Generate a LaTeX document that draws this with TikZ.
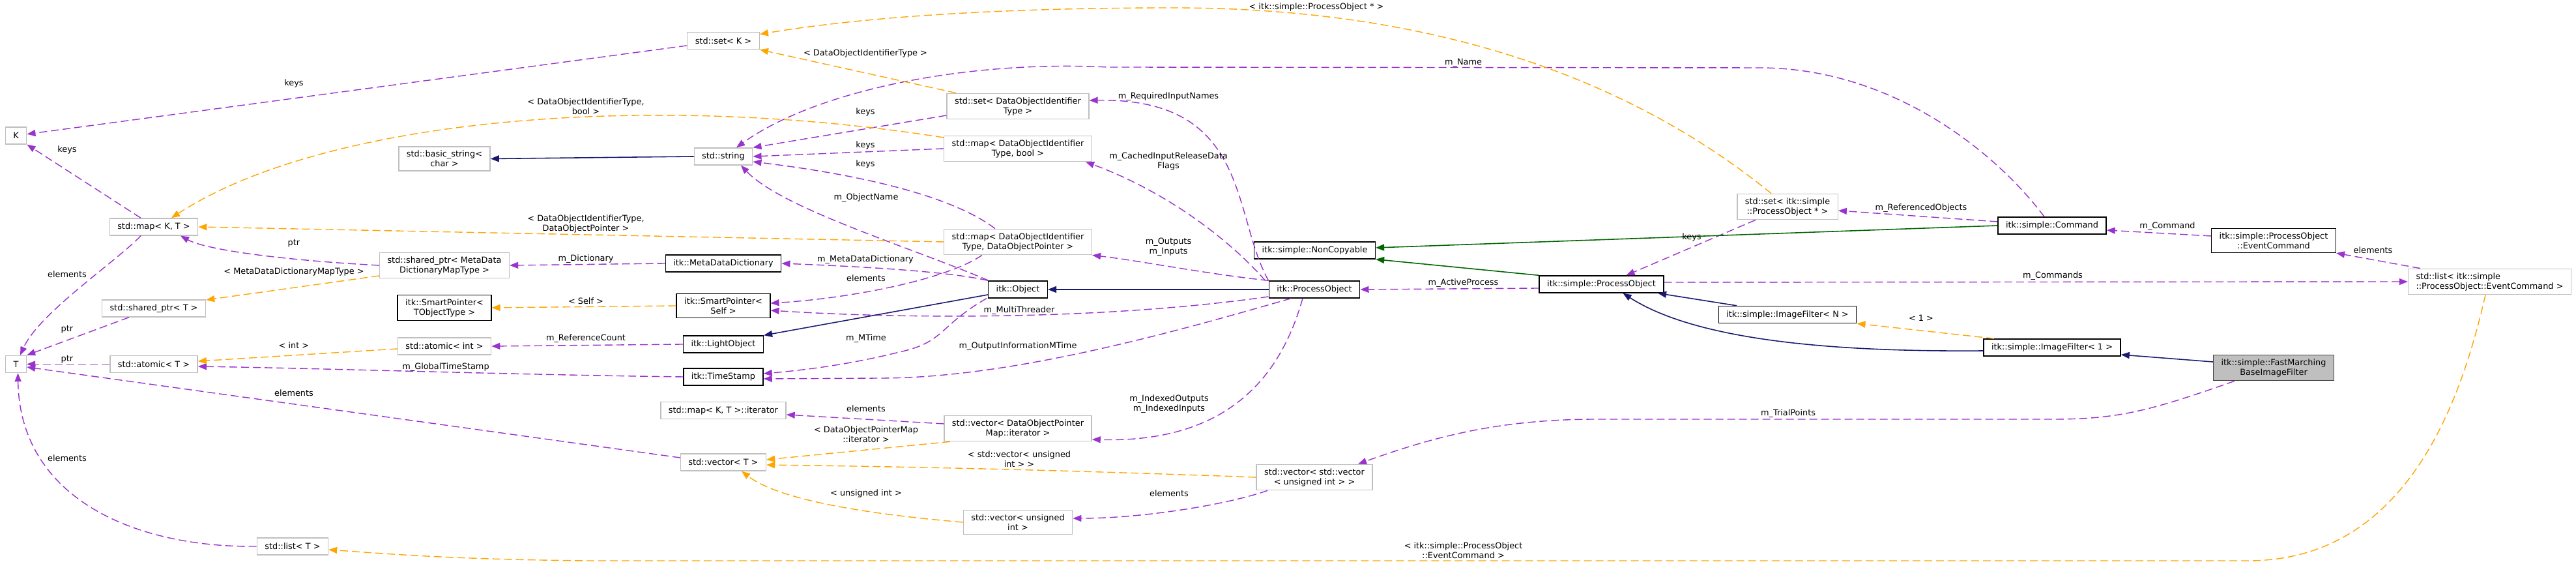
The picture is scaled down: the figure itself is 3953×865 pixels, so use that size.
\documentclass[tikz,border=0pt]{standalone}
\usepackage{fontspec}
\setmainfont{DejaVu Sans}
\usetikzlibrary{arrows.meta}
\definecolor{edgepurple}{HTML}{9A32CD}
\definecolor{tmplorange}{HTML}{FFA500}
\definecolor{inhblue}{HTML}{191970}
\definecolor{privgreen}{HTML}{006400}
\definecolor{nodegray}{HTML}{BFBFBF}
\definecolor{mainborder}{HTML}{404040}
\newcommand{\dgfont}{\fontsize{3.66pt}{4.25pt}\selectfont}

\begin{document}
\begin{tikzpicture}[x=0.01cm, y=-0.01cm,
  cls/.style={draw=black, fill=white, line width=0.4pt, font=\dgfont, align=center,
    inner xsep=0.12cm, inner ysep=0.06cm, minimum height=0.26cm},
  extcls/.style={cls, draw=nodegray},
  maincls/.style={cls, fill=nodegray, draw=mainborder},
  lbl/.style={font=\dgfont, align=center, inner sep=0pt},
  dgtip/.style={-{Triangle[length=0.13cm,width=0.10cm]}},
  usesedge/.style={dgtip, draw=edgepurple, line width=0.4pt, dash pattern=on 0.12cm off 0.06cm},
  tmpledge/.style={dgtip, draw=tmplorange, line width=0.4pt, dash pattern=on 0.12cm off 0.06cm},
  inhedge/.style={dgtip, draw=inhblue, line width=0.45pt},
  privedge/.style={dgtip, draw=privgreen, line width=0.45pt}]
  \path[use as bounding box, fill=white] (0,0) rectangle (3953,865);

  %% std containers and helpers (left)
  \node[extcls] (K) at (24.5,208) {K};
  \node[extcls] (mapKT) at (236,348) {std::map< K, T >};
  \node[extcls] (T) at (24.5,558.5) {T};
  \node[extcls] (sharedT) at (236,473) {std::shared\_ptr< T >};
  \node[extcls] (atomicT) at (236,558.5) {std::atomic< T >};
  \node[extcls] (listT) at (449,838) {std::list< T >};
  \node[extcls] (basicStr) at (682,243.5) {std::basic\_string<\\char >};
  \node[extcls] (sharedMD) at (682,407) {std::shared\_ptr< MetaData\\DictionaryMapType >};
  \node[cls] (spT) at (682,472) {itk::SmartPointer<\\TObjectType >};
  \node[extcls] (atomicInt) at (682,531) {std::atomic< int >};
  \node[extcls] (setK) at (1110,62.5) {std::set< K >};
  \node[extcls] (str) at (1110,240) {std::string};
  \node[cls] (mdd) at (1110,404) {itk::MetaDataDictionary};
  \node[cls] (spSelf) at (1110,469) {itk::SmartPointer<\\Self >};
  \node[cls] (lightObj) at (1110,528) {itk::LightObject};
  \node[cls] (timeStamp) at (1110,578) {itk::TimeStamp};
  \node[extcls] (mapIter) at (1110,629.5) {std::map< K, T >::iterator};
  \node[extcls] (vecT) at (1110,709) {std::vector< T >};

  %% itk process object and its members
  \node[extcls] (setDOIT) at (1562,163) {std::set< DataObjectIdentifier\\Type >};
  \node[extcls] (mapBool) at (1562,228) {std::map< DataObjectIdentifier\\Type, bool >};
  \node[extcls] (mapDOP) at (1562,371) {std::map< DataObjectIdentifier\\Type, DataObjectPointer >};
  \node[cls] (itkObj) at (1562,444) {itk::Object};
  \node[extcls] (vecIter) at (1562,657) {std::vector< DataObjectPointer\\Map::iterator >};
  \node[extcls] (vecUint) at (1562,801) {std::vector< unsigned\\int >};
  \node[cls] (nonCopy) at (2017.5,384) {itk::simple::NonCopyable};
  \node[cls] (itkPO) at (2017,444) {itk::ProcessObject};
  \node[extcls] (vecVec) at (2017,732) {std::vector< std::vector\\< unsigned int > >};

  %% simple itk side
  \node[extcls] (setPO) at (2743,317) {std::set< itk::simple\\::ProcessObject * >};
  \node[cls] (simplePO) at (2457.5,436) {itk::simple::ProcessObject};
  \node[cls] (imgN) at (2743,482.5) {itk::simple::ImageFilter< N >};
  \node[cls] (cmd) at (3149,346) {itk::simple::Command};
  \node[cls] (img1) at (3149,533) {itk::simple::ImageFilter< 1 >};
  \node[cls] (eventCmd) at (3489,369) {itk::simple::ProcessObject\\::EventCommand};
  \node[maincls] (fastM) at (3489,564) {itk::simple::FastMarching\\BaseImageFilter};
  \node[extcls, align=left] (listEC) at (3820.5,432) {std::list< itk::simple\\::ProcessObject::EventCommand >};

  %% usage (purple, dashed)
  \draw[usesedge] (setK) -- (K);
  \draw[usesedge] ([xshift=-0.2cm]mapKT.north) -- (K.south east);
  \draw[usesedge] ([xshift=-0.2cm]mapKT.south) .. controls (180,400) and (60,480) .. ([xshift=0.065cm]T.north);
  \draw[usesedge] ([xshift=-0.38cm]sharedT.south) -- (T.north east);
  \draw[usesedge] (atomicT.west) -- (T.east);
  \draw[usesedge] ([yshift=0.07cm]vecT.west) -- ([yshift=-0.045cm]T.east);
  \draw[usesedge] (listT.west) .. controls (200,840) and (30,760) .. ([xshift=0.03cm]T.south);
  \draw[usesedge] (sharedMD.west) .. controls (450,400) and (320,385) .. ([xshift=0.41cm]mapKT.south);
  \draw[usesedge] ([yshift=-0.14cm]setDOIT.west) -- (str.north east);
  \draw[usesedge] (mapBool.west) -- (str.east);
  \draw[usesedge] ([xshift=-0.35cm]mapDOP.north) .. controls (1460,300) and (1320,268) .. ([yshift=-0.08cm]str.east);
  \draw[usesedge] ([xshift=-0.45cm]itkObj.north) .. controls (1400,380) and (1200,320) .. ([xshift=0.27cm]str.south);
  \draw[usesedge] ([xshift=-0.12cm]cmd.north) .. controls (3060,230) and (2900,104) .. (2700,104)
    -- (1700,103) .. controls (1480,92) and (1250,140) .. ([xshift=0.2cm]str.north);
  \draw[usesedge] (mdd.west) -- (sharedMD.east);
  \draw[usesedge] (itkObj.north west) .. controls (1450,415) and (1300,408) .. (mdd.east);
  \draw[usesedge] ([xshift=-0.55cm]mapDOP.south) .. controls (1450,430) and (1300,458) .. ([yshift=0.04cm]spSelf.east);
  \draw[usesedge] ([yshift=-0.11cm]itkPO.west) .. controls (1700,490) and (1400,490) .. ([yshift=-0.07cm]spSelf.east);
  \draw[usesedge] (lightObj.west) -- (atomicInt.east);
  \draw[usesedge] (timeStamp.west) .. controls (800,575) and (500,565) .. ([yshift=-0.035cm]atomicT.east);
  \draw[usesedge] ([xshift=-0.48cm]itkObj.south) .. controls (1440,500) and (1450,525) .. (1380,540)
    .. controls (1300,560) and (1230,568) .. ([yshift=0.05cm]timeStamp.east);
  \draw[usesedge] ([xshift=-0.36cm]itkPO.south) .. controls (1800,510) and (1550,580) .. (1350,580)
    -- ([yshift=-0.03cm]timeStamp.east);
  \draw[usesedge] ([yshift=0.07cm]vecIter.west) -- ([yshift=-0.065cm]mapIter.east);
  \draw[usesedge] ([xshift=-0.72cm]vecVec.south) .. controls (1880,775) and (1750,795) .. ([yshift=0.06cm]vecUint.east);
  \draw[usesedge] (itkPO.north west) .. controls (1890,330) and (1920,150) .. ([yshift=0.09cm]setDOIT.east);
  \draw[usesedge] ([xshift=-0.05cm]itkPO.north west) .. controls (1880,360) and (1780,290) .. ([xshift=1.04cm]mapBool.south);
  \draw[usesedge] (itkPO.north west) .. controls (1850,420) and (1750,400) .. (mapDOP.south east);
  \draw[usesedge] ([xshift=-0.18cm]itkPO.south) .. controls (1970,560) and (1900,680) .. ([yshift=-0.17cm]vecIter.east);
  \draw[usesedge] ([yshift=-0.06cm]simplePO.west) -- (itkPO.east);
  \draw[usesedge] ([xshift=-0.49cm]setPO.south) -- ([xshift=0.38cm]simplePO.north);
  \draw[usesedge] ([yshift=0.06cm]cmd.west) -- ([yshift=-0.06cm]setPO.east);
  \draw[usesedge] ([yshift=0.07cm]eventCmd.west) -- ([yshift=-0.07cm]cmd.east);
  \draw[usesedge] ([xshift=-1.065cm]listEC.north) -- (eventCmd.south east);
  \draw[usesedge] ([yshift=0.03cm]simplePO.east) -- (listEC.west);
  \draw[usesedge] ([xshift=-0.6cm]fastM.south) .. controls (3300,630) and (3250,643) .. (3150,643)
    -- (2450,643) .. controls (2300,643) and (2200,670) .. ([xshift=0.67cm]vecVec.north);

  %% template instances (orange, dashed)
  \draw[tmpledge] ([yshift=-0.16cm]sharedMD.west) -- ([yshift=0.13cm]sharedT.east);
  \draw[tmpledge] ([xshift=-0.95cm]setDOIT.north) -- (setK.south east);
  \draw[tmpledge] ([xshift=-0.25cm]setPO.north) .. controls (2500,120) and (2200,12) .. (1800,12)
    .. controls (1500,12) and (1300,30) .. ([yshift=0.1cm]setK.east);
  \draw[tmpledge] ([yshift=0.17cm]mapBool.west) .. controls (1000,140) and (500,180) .. ([xshift=0.27cm]mapKT.north);
  \draw[tmpledge] (mapDOP.west) -- (mapKT.east);
  \draw[tmpledge] (spSelf.west) -- (spT.east);
  \draw[tmpledge] ([yshift=-0.04cm]atomicInt.west) -- ([yshift=0.045cm]atomicT.east);
  \draw[tmpledge] ([xshift=-1.04cm]vecIter.south) -- ([yshift=0.04cm]vecT.east);
  \draw[tmpledge] (vecVec.west) .. controls (1600,720) and (1400,716) .. ([yshift=-0.04cm]vecT.east);
  \draw[tmpledge] (vecUint.west) .. controls (1350,790) and (1200,770) .. ([xshift=0.28cm]vecT.south);
  \draw[tmpledge] ([xshift=-0.89cm]img1.north) -- (imgN.south east);
  \draw[tmpledge] ([xshift=-0.065cm]listEC.south) .. controls (3780,600) and (3700,860) .. (3450,860)
    -- (900,860) .. controls (700,858) and (600,850) .. ([yshift=-0.05cm]listT.east);

  %% inheritance
  \draw[inhedge] (str.west) -- (basicStr.east);
  \draw[inhedge] ([yshift=-0.08cm]itkObj.west) -- (lightObj.north east);
  \draw[inhedge] (itkPO.west) -- (itkObj.east);
  \draw[inhedge] ([xshift=-0.78cm]imgN.north) -- ([xshift=0.865cm]simplePO.south);
  \draw[inhedge] ([yshift=-0.05cm]img1.west) .. controls (2800,540) and (2600,520) .. ([xshift=0.33cm]simplePO.south);
  \draw[inhedge] ([yshift=0.09cm]fastM.west) -- ([yshift=-0.11cm]img1.east);
  \draw[privedge] (cmd.west) -- ([yshift=0.04cm]nonCopy.east);
  \draw[privedge] (simplePO.north west) -- (nonCopy.south east);

  %% edge labels
  \node[lbl] (lbKeysA) at (451,128) {keys};
  \node[lbl] (lbKeysB) at (103,230) {keys};
  \node[lbl] (lbKeysC) at (1328,172) {keys};
  \node[lbl] (lbKeysD) at (1328,223) {keys};
  \node[lbl] (lbKeysE) at (1328,252) {keys};
  \node[lbl] (lbKeysF) at (2596,364) {keys};
  \node[lbl] (lbElemA) at (103,421) {elements};
  \node[lbl] (lbElemB) at (103,703) {elements};
  \node[lbl] (lbElemC) at (451,603) {elements};
  \node[lbl] (lbElemD) at (1329,427) {elements};
  \node[lbl] (lbElemE) at (1329,627) {elements};
  \node[lbl] (lbElemF) at (1794,757) {elements};
  \node[lbl] (lbElemG) at (3641.5,384) {elements};
  \node[lbl] (lbPtrA) at (451,373) {ptr};
  \node[lbl] (lbPtrB) at (103,505) {ptr};
  \node[lbl] (lbPtrC) at (103,551) {ptr};
  \node[lbl] (lbMapType) at (451,417) {< MetaDataDictionaryMapType >};
  \node[lbl] (lbInt) at (451,530) {< int >};
  \node[lbl] (lbGlobal) at (684,563) {m\_GlobalTimeStamp};
  \node[lbl] (lbIdBool) at (899,163) {< DataObjectIdentifierType,\\bool >};
  \node[lbl] (lbIdPtr) at (899,343) {< DataObjectIdentifierType,\\DataObjectPointer >};
  \node[lbl] (lbDict) at (899,397) {m\_Dictionary};
  \node[lbl] (lbSelf) at (899,462) {< Self >};
  \node[lbl] (lbRefCount) at (899,519) {m\_ReferenceCount};
  \node[lbl] (lbIdType) at (1328,82) {< DataObjectIdentifierType >};
  \node[lbl] (lbObjName) at (1329,303) {m\_ObjectName};
  \node[lbl] (lbMetaDict) at (1328,398) {m\_MetaDataDictionary};
  \node[lbl] (lbMTime) at (1329,519) {m\_MTime};
  \node[lbl] (lbPtrMap) at (1329,666) {< DataObjectPointerMap\\::iterator >};
  \node[lbl] (lbUint) at (1329,757) {< unsigned int >};
  \node[lbl] (lbPOStar) at (2020,11) {< itk::simple::ProcessObject * >};
  \node[lbl] (lbReqIn) at (1793,148) {m\_RequiredInputNames};
  \node[lbl] (lbCached) at (1793,247) {m\_CachedInputReleaseData\\Flags};
  \node[lbl] (lbInOut) at (1793,379) {m\_Outputs\\m\_Inputs};
  \node[lbl] (lbThreader) at (1564,476) {m\_MultiThreader};
  \node[lbl] (lbOutInfo) at (1562,531) {m\_OutputInformationMTime};
  \node[lbl] (lbIndexed) at (1794,620) {m\_IndexedOutputs\\m\_IndexedInputs};
  \node[lbl] (lbVecUint) at (1564,704) {< std::vector< unsigned\\int > >};
  \node[lbl] (lbName) at (2245.5,96) {m\_Name};
  \node[lbl] (lbActive) at (2245.5,434) {m\_ActiveProcess};
  \node[lbl] (lbRefObj) at (2948,319) {m\_ReferencedObjects};
  \node[lbl] (lbCmds) at (3150,423) {m\_Commands};
  \node[lbl] (lbOne) at (2948,488) {< 1 >};
  \node[lbl] (lbTrial) at (2744,634) {m\_TrialPoints};
  \node[lbl] (lbCmd) at (3326,347) {m\_Command};
  \node[lbl] (lbEvent) at (2245.5,844) {< itk::simple::ProcessObject\\::EventCommand >};
\end{tikzpicture}
\end{document}
